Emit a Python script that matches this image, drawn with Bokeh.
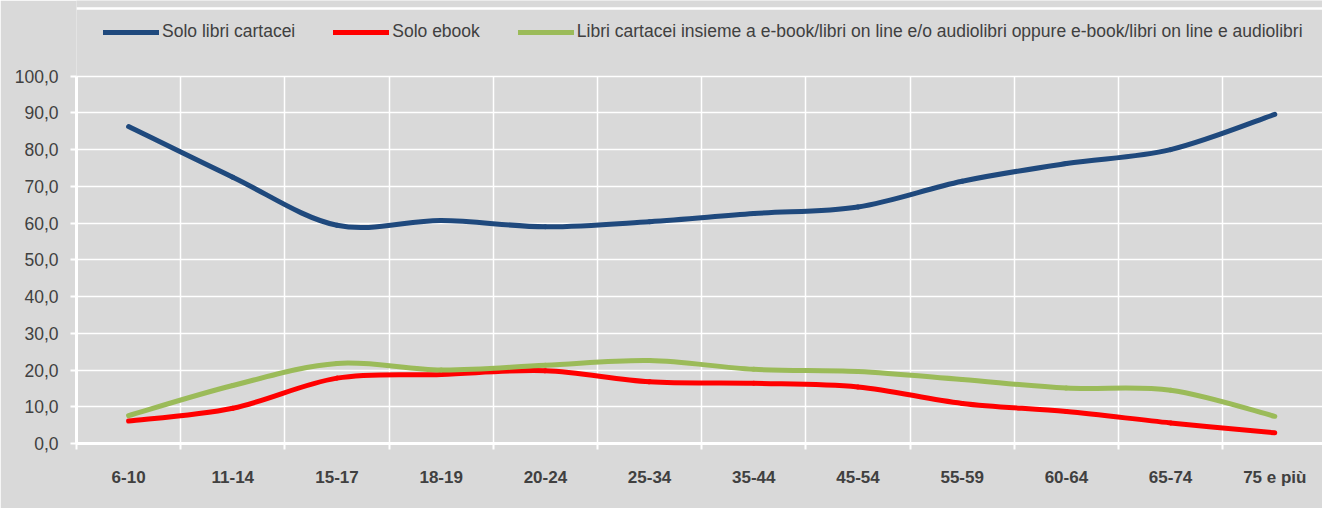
from bokeh.plotting import figure
from bokeh.models import (Range1d, FixedTicker, Legend, LegendItem, ColumnDataSource,
                          CDSView, IndexFilter, BoxAnnotation)
from bokeh.embed import file_html
from bokeh.resources import INLINE

# ---------------- data ----------------
categories = ["6-10", "11-14", "15-17", "18-19", "20-24", "25-34",
              "35-44", "45-54", "55-59", "60-64", "65-74", "75 e più"]
solo_cartacei = [86.3, 72.5, 59.4, 60.7, 59.0, 60.4, 62.6, 64.4, 71.4, 76.2, 80.0, 89.6]
solo_ebook = [6.1, 9.6, 17.8, 18.8, 19.8, 16.8, 16.4, 15.4, 10.9, 8.7, 5.6, 2.9]
entrambi = [7.6, 15.8, 21.8, 20.0, 21.3, 22.6, 20.2, 19.6, 17.4, 15.1, 14.5, 7.4]
series_names = ["Solo libri cartacei", "Solo ebook",
                "Libri cartacei insieme a e-book/libri on line e/o audiolibri oppure e-book/libri on line e audiolibri"]
y_ticks = [0, 10, 20, 30, 40, 50, 60, 70, 80, 90, 100]
y_tick_labels = ["0,0", "10,0", "20,0", "30,0", "40,0", "50,0", "60,0", "70,0", "80,0", "90,0", "100,0"]
y_axis_max = 100

# ---------------- style ----------------
FONT = "Liberation Sans"
BG = "#d9d9d9"
TXT = "#404040"
COLORS = ["#1f497d", "#ff0000", "#9bbb59"]

W, H = 1322, 508
BORDER_BOTTOM = 65
Y_TOP = 120.6                      # frame reaches the top edge so the legend is not clipped
FRAME_H = H - BORDER_BOTTOM
px = Y_TOP / FRAME_H               # data units per pixel (vertical)

x_pos = list(range(len(categories)))
boundaries = [i - 0.5 for i in range(len(categories) + 1)]

p = figure(width=W, height=H, output_backend="svg", toolbar_location=None, title=None,
           x_range=Range1d(-0.5, 11.458), y_range=Range1d(0, Y_TOP),
           min_border_left=76, min_border_right=0, min_border_top=0,
           min_border_bottom=BORDER_BOTTOM)
p.background_fill_color = BG
p.border_fill_color = BG
p.outline_line_color = None

# axes
p.xaxis.ticker = FixedTicker(ticks=x_pos, minor_ticks=boundaries)
p.xaxis.major_label_overrides = {i: c for i, c in enumerate(categories)}
p.xaxis.major_tick_line_color = None
p.xaxis.minor_tick_line_color = "white"
p.xaxis.minor_tick_line_width = 2
p.xaxis.minor_tick_out = 6
p.xaxis.minor_tick_in = 0
p.xaxis.axis_line_color = "white"
p.xaxis.axis_line_width = 3
p.xaxis.major_label_text_font = FONT
p.xaxis.major_label_text_font_size = "17px"
p.xaxis.major_label_text_font_style = "bold"
p.xaxis.major_label_text_color = TXT
p.xaxis.major_label_standoff = 18

p.yaxis.ticker = FixedTicker(ticks=y_ticks, minor_ticks=[])
p.yaxis.bounds = (0, y_axis_max)
p.yaxis.major_label_overrides = {v: l for v, l in zip(y_ticks, y_tick_labels)}
p.yaxis.major_tick_line_color = "white"
p.yaxis.major_tick_line_width = 2
p.yaxis.major_tick_out = 6
p.yaxis.major_tick_in = 0
p.yaxis.minor_tick_line_color = None
p.yaxis.axis_line_color = "white"
p.yaxis.axis_line_width = 3
p.yaxis.major_label_text_font = FONT
p.yaxis.major_label_text_font_size = "17.5px"
p.yaxis.major_label_text_color = TXT
p.yaxis.major_label_standoff = 12

# grids (left boundary is drawn by the value axis itself)
p.xgrid.ticker = FixedTicker(ticks=boundaries[1:])
p.xgrid.grid_line_color = "white"
p.xgrid.grid_line_width = 1.5
p.ygrid.grid_line_color = "white"
p.ygrid.grid_line_width = 1.5

# keep the vertical grid lines below the top of the value axis
try:
    p.xgrid.cross_bounds = (0, y_axis_max)
except AttributeError:
    p.add_layout(BoxAnnotation(bottom=y_axis_max + 0.25, fill_color=BG, fill_alpha=1.0,
                               line_color=None))

# thin white rule across the top of the chart area (about 8 px below the top edge)
p.hspan(y=[Y_TOP - 8.2 * px], line_color="white", line_width=2.5)

# smooth curves (Catmull-Rom style cubic Bezier between data points)
items = []
for vals, color, name in zip([solo_cartacei, solo_ebook, entrambi], COLORS, series_names):
    n = len(vals)
    x0, y0, x1, y1, cx0, cy0, cx1, cy1 = [], [], [], [], [], [], [], []
    for i in range(n - 1):
        im = max(i - 1, 0)
        ip = min(i + 2, n - 1)
        x0.append(x_pos[i]); y0.append(vals[i])
        x1.append(x_pos[i + 1]); y1.append(vals[i + 1])
        cx0.append(x_pos[i] + (x_pos[i + 1] - x_pos[im]) / 6)
        cy0.append(vals[i] + (vals[i + 1] - vals[im]) / 6)
        cx1.append(x_pos[i + 1] - (x_pos[ip] - x_pos[i]) / 6)
        cy1.append(vals[i + 1] - (vals[ip] - vals[i]) / 6)
    src = ColumnDataSource(dict(x0=x0, y0=y0, x1=x1, y1=y1, cx0=cx0, cy0=cy0, cx1=cx1, cy1=cy1))
    p.bezier("x0", "y0", "x1", "y1", "cx0", "cy0", "cx1", "cy1", source=src,
             line_color=color, line_width=5, line_cap="round")
    lsrc = ColumnDataSource(dict(x=x_pos, y=vals))
    # legend proxy: a single-point line draws nothing on the plot but gives the legend its swatch
    r = p.line("x", "y", source=lsrc, line_color=color, line_width=5, line_cap="round",
               view=CDSView(filter=IndexFilter([0])))
    items.append(LegendItem(label=name, renderers=[r]))

legend = Legend(items=items, orientation="horizontal", location=(27, 401),
                background_fill_alpha=0, border_line_color=None,
                padding=0, margin=0, spacing=38, label_standoff=3,
                glyph_width=56, glyph_height=20, label_height=20,
                label_text_font=FONT, label_text_font_size="17.5px", label_text_color=TXT,
                label_text_baseline="middle")
p.add_layout(legend, "center")

open("out.html", "w").write(file_html(p, INLINE))
